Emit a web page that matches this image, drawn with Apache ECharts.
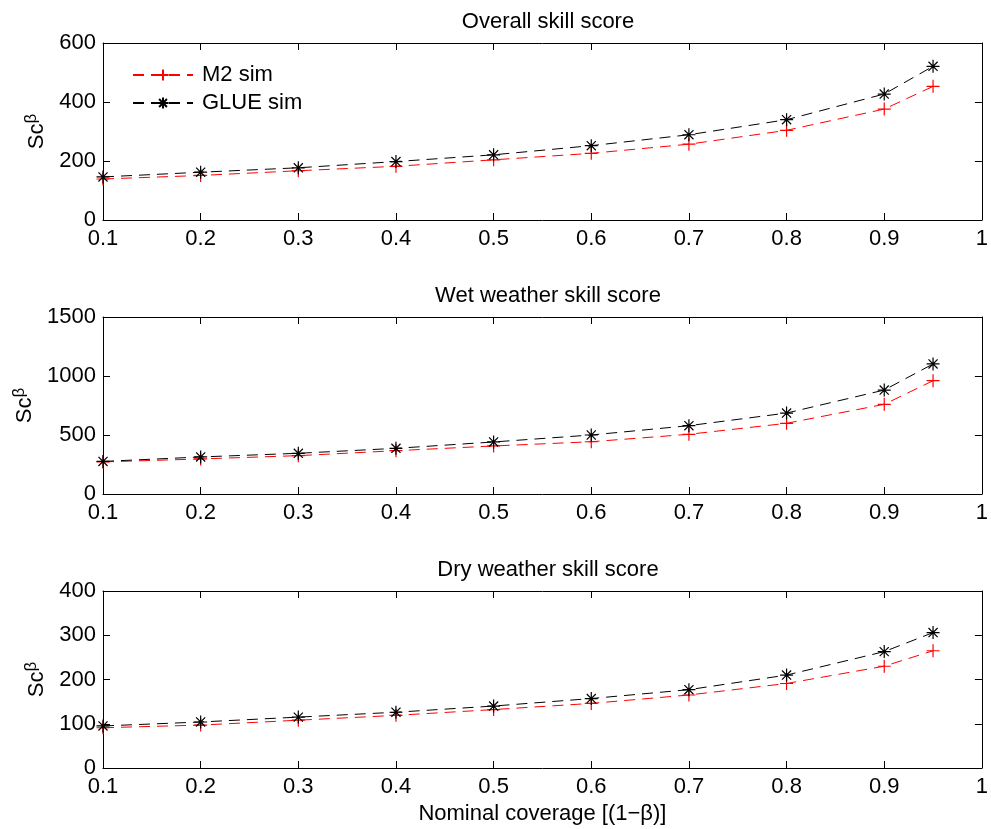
<!DOCTYPE html>
<html>
<head>
<meta charset="utf-8">
<script src="https://cdn.jsdelivr.net/npm/echarts@6/dist/echarts.min.js"></script>
<style>
  html, body { margin: 0; padding: 0; background: #fff; }
  #chart { width: 991px; height: 829px; }
</style>
</head>
<body>
<div id="chart"></div>
<script>
// nominal coverage (1 - beta)
const coverage = [0.1, 0.2, 0.3, 0.4, 0.5, 0.6, 0.7, 0.8, 0.9, 0.95]

const overallM2 = [139, 151, 167, 182, 204, 226, 257, 304, 376, 453]
const overallGLUE = [146, 162, 177, 198, 221, 252, 289, 340, 427, 521]
const wetM2 = [272, 297, 325, 367, 407, 443, 506, 599, 760, 960]
const wetGLUE = [276, 314, 345, 387, 441, 500, 579, 686, 881, 1102]
const dryM2 = [91, 97, 108, 119, 132, 146, 165, 191, 230, 265]
const dryGLUE = [95, 104, 115, 126, 140, 157, 177, 210, 263, 306]

const titles = ['Overall skill score', 'Wet weather skill score', 'Dry weather skill score']
const yMax = [600, 1500, 400]
const yStep = [200, 500, 100]
const seriesNames = ['M2 sim', 'GLUE sim']

const FONT = 'Liberation Sans'
const FS = 22
const PLUS = 'path://M5,0L5,10M0,5L10,5'
const STAR = 'path://M5,0L5,10M0,5L10,5M1.5,1.5L8.5,8.5M1.5,8.5L8.5,1.5'

const gridTops = [43, 317, 591]
const gridH = 177

function pair (arr) {
  return coverage.map((c, i) => [c, arr[i]])
}

const panels = [
  [overallM2, overallGLUE],
  [wetM2, wetGLUE],
  [dryM2, dryGLUE]
]

let grid = []
let xAxis = []
let yAxis = []
let series = []
let title = []

panels.forEach((p, i) => {
  grid.push({ left: 103, right: 8, top: gridTops[i], height: gridH })
  title.push({
    text: titles[i],
    left: 543,
    top: gridTops[i] - 37,
    textAlign: 'center',
    textStyle: { fontFamily: FONT, fontSize: FS, fontWeight: 'normal', color: '#000' }
  })
  const xBase = {
    type: 'value', gridIndex: i, min: 0.1, max: 1, interval: 0.1,
    splitLine: { show: false },
    axisLine: { onZero: false, lineStyle: { color: '#000', width: 1 } },
    axisTick: { inside: true, length: 7, lineStyle: { color: '#000' } }
  }
  xAxis.push(Object.assign({}, xBase, {
    position: 'bottom',
    axisLabel: {
      margin: 8, color: '#000', fontFamily: FONT, fontSize: FS,
      formatter: v => String(+v.toFixed(1))
    },
    name: i === 2 ? 'Nominal coverage [(1\u2212\u03b2)]' : '',
    nameLocation: 'middle',
    nameGap: 35,
    nameTextStyle: { fontFamily: FONT, fontSize: FS, color: '#000' }
  }))
  xAxis.push(Object.assign({}, xBase, { position: 'top', axisLabel: { show: false } }))
  const yBase = {
    type: 'value', gridIndex: i, min: 0, max: yMax[i], interval: yStep[i],
    splitLine: { show: false },
    axisLine: { show: true, onZero: false, lineStyle: { color: '#000', width: 1 } },
    axisTick: { show: true, inside: true, length: 7, lineStyle: { color: '#000' } }
  }
  yAxis.push(Object.assign({}, yBase, {
    position: 'left',
    axisLabel: {
      margin: 7, color: '#000', fontFamily: FONT, fontSize: FS,
      formatter: v => String(v)
    },
    name: '{a|Sc}{b|\u03b2}',
    nameLocation: 'middle',
    nameRotate: 90,
    nameGap: i === 1 ? 60 : 52,
    nameTextStyle: {
      rich: {
        a: { fontFamily: FONT, fontSize: FS, color: '#000' },
        b: { fontFamily: FONT, fontSize: 17, color: '#000', padding: [0, 0, 11, 0] }
      }
    }
  }))
  yAxis.push(Object.assign({}, yBase, { position: 'right', axisLabel: { show: false } }))

  series.push({
    name: seriesNames[0], type: 'line', xAxisIndex: i * 2, yAxisIndex: i * 2,
    data: pair(p[0]),
    symbol: PLUS, symbolSize: 13,
    itemStyle: { color: '#ff0000', borderColor: '#ff0000', borderWidth: 1.2 },
    lineStyle: { color: '#ff0000', width: 1, type: [11, 7] },
    z: 2
  })
  series.push({
    name: seriesNames[1], type: 'line', xAxisIndex: i * 2, yAxisIndex: i * 2,
    data: pair(p[1]),
    symbol: STAR, symbolSize: 13,
    itemStyle: { color: '#000', borderColor: '#000', borderWidth: 1.2 },
    lineStyle: { color: '#000', width: 1, type: [11, 7] },
    z: 3
  })
})

const chart = echarts.init(document.getElementById('chart'))
chart.setOption({
  animation: false,
  backgroundColor: '#fff',
  title: title,
  grid: grid,
  xAxis: xAxis,
  yAxis: yAxis,
  legend: {
    data: seriesNames,
    orient: 'vertical',
    left: 127,
    top: 59,
    itemWidth: 60,
    itemHeight: 14,
    itemGap: 6,
    textStyle: { fontFamily: FONT, fontSize: FS, color: '#000', padding: [0, 0, 0, 4] }
  },
  series: series
})
</script>
</body>
</html>
